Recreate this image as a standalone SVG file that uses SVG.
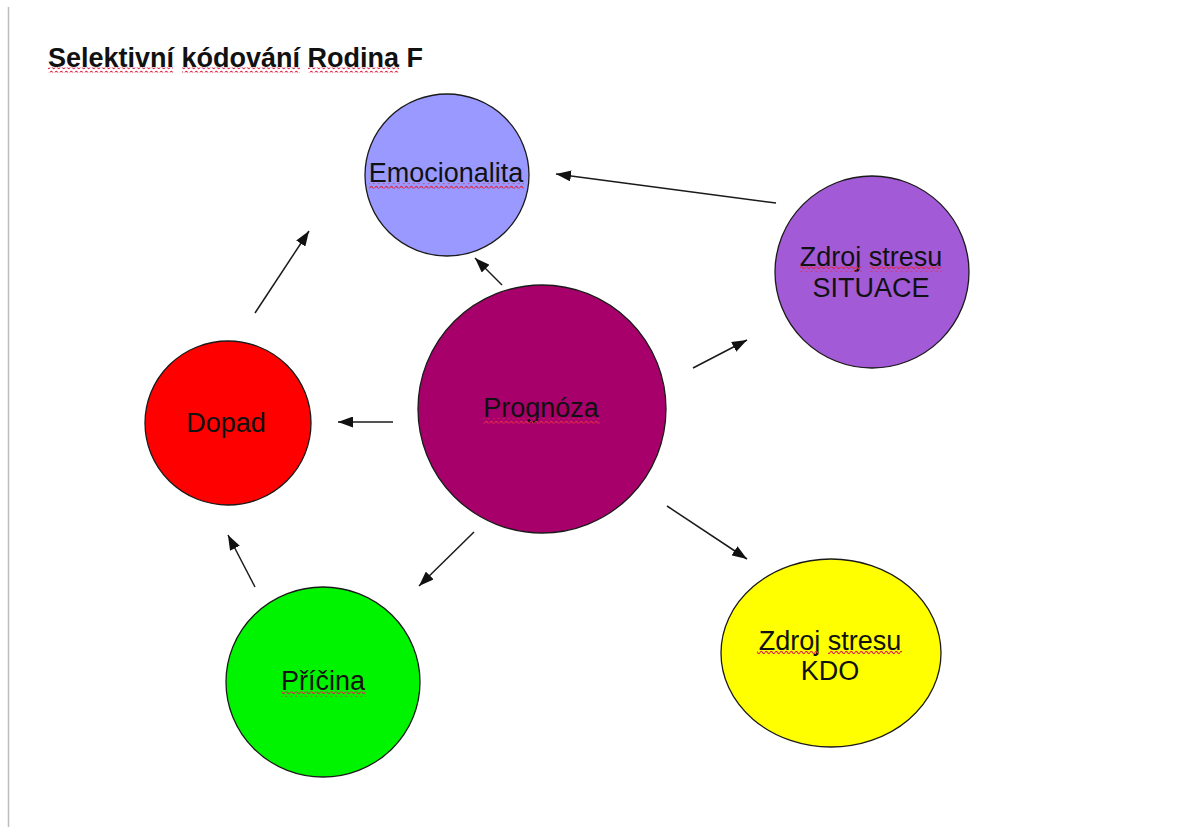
<svg xmlns="http://www.w3.org/2000/svg" width="1191" height="827" viewBox="0 0 1191 827">
  <defs>
    <style>
      .node { stroke: #1a1a1a; stroke-width: 1.3; }
      .label { font-family: "Liberation Sans", Arial, sans-serif; font-size: 27px; fill: #111; text-anchor: middle; }
      .title { font-family: "Liberation Sans", Arial, sans-serif; font-size: 27px; font-weight: bold; fill: #111; }
      .edge { stroke: #1a1a1a; stroke-width: 1.5; fill: none; marker-end: url(#arrow); }
      .squiggle { fill: url(#wave); }
    </style>
    <marker id="arrow" markerUnits="userSpaceOnUse" viewBox="0 0 15 11" markerWidth="15" markerHeight="11" refX="15" refY="5.5" orient="auto">
      <path d="M0,0 L15,5.5 L0,11 z" fill="#111"/>
    </marker>
    <!-- red wavy spell-check underline -->
    <pattern id="wave" patternUnits="userSpaceOnUse" width="5" height="5">
      <path d="M0 2.5 Q1.25 0.4 2.5 2.5 T5 2.5" fill="none" stroke="#e0284a" stroke-width="1.2"/>
    </pattern>
  </defs>

  <rect width="1191" height="827" fill="#ffffff"/>
  <!-- page margin rule -->
  <line x1="8.5" y1="7" x2="8.5" y2="827" stroke="#bdbdbd" stroke-width="1.5"/>

  <g id="title">
    <text class="title" x="48" y="67">Selektivní kódování Rodina F</text>
    <rect class="squiggle" x="48" y="67.5" width="125" height="5"/>
    <rect class="squiggle" x="182" y="67.5" width="118" height="5"/>
    <rect class="squiggle" x="308" y="67.5" width="91" height="5"/>
  </g>

  <g id="connectors">
    <line class="edge" x1="255" y1="313" x2="309" y2="231"/>
    <line class="edge" x1="502" y1="285" x2="475" y2="258"/>
    <line class="edge" x1="776" y1="203" x2="556" y2="174"/>
    <line class="edge" x1="693" y1="368" x2="747" y2="340"/>
    <line class="edge" x1="393" y1="422" x2="338" y2="422"/>
    <line class="edge" x1="474" y1="532" x2="419" y2="586"/>
    <line class="edge" x1="255" y1="587" x2="228" y2="535"/>
    <line class="edge" x1="667" y1="506" x2="747" y2="559"/>
  </g>

  <g id="emocionalita">
    <ellipse class="node" cx="447" cy="175" rx="82" ry="81" fill="#9999ff"/>
    <text class="label" x="446" y="182">Emocionalita</text>
    <rect class="squiggle" x="369" y="183.5" width="155" height="5"/>
  </g>

  <g id="zdroj-situace">
    <ellipse class="node" cx="872" cy="272" rx="97" ry="96" fill="#a35ad7"/>
    <text class="label" x="871" y="266">Zdroj stresu</text>
    <text class="label" x="871" y="297">SITUACE</text>
    <rect class="squiggle" x="800" y="266.5" width="62" height="5"/>
    <rect class="squiggle" x="870" y="266.5" width="72" height="5"/>
  </g>

  <g id="prognoza">
    <ellipse class="node" cx="542" cy="409" rx="124" ry="124" fill="#a8006a"/>
    <text class="label" x="541" y="417">Prognóza</text>
    <rect class="squiggle" x="483" y="418.5" width="117" height="5"/>
  </g>

  <g id="dopad">
    <ellipse class="node" cx="228" cy="423" rx="83" ry="82" fill="#ff0000"/>
    <text class="label" x="226" y="432">Dopad</text>
  </g>

  <g id="pricina">
    <ellipse class="node" cx="323" cy="682" rx="97" ry="95" fill="#00f400"/>
    <text class="label" x="323" y="690">Příčina</text>
    <rect class="squiggle" x="281" y="691.5" width="85" height="5"/>
  </g>

  <g id="zdroj-kdo">
    <ellipse class="node" cx="831" cy="653" rx="110" ry="94" fill="#ffff00"/>
    <text class="label" x="830" y="650">Zdroj stresu</text>
    <text class="label" x="830" y="680">KDO</text>
    <rect class="squiggle" x="757" y="650.5" width="62" height="5"/>
    <rect class="squiggle" x="828" y="650.5" width="74" height="5"/>
  </g>
</svg>
